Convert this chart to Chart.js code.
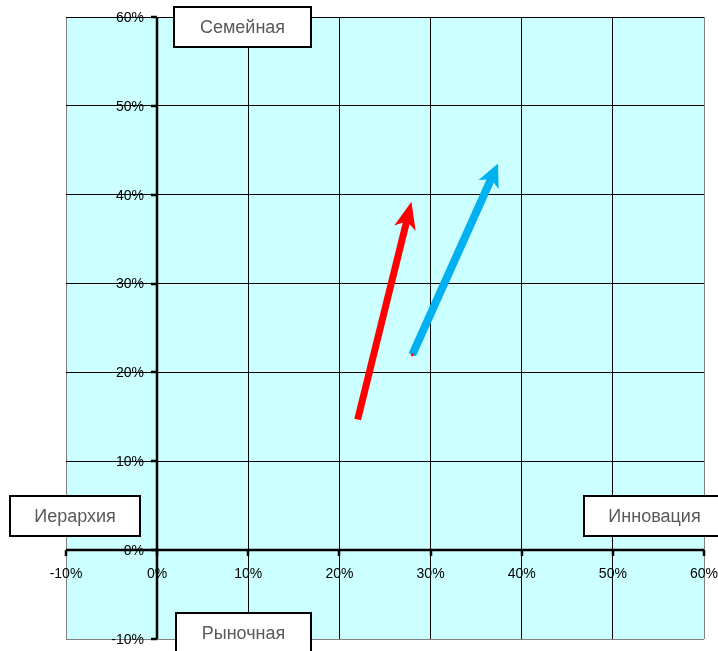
<!DOCTYPE html>
<html>
<head>
<meta charset="utf-8">
<script src="https://cdn.jsdelivr.net/npm/chart.js@4"></script>
<style>
  html, body { margin: 0; padding: 0; background: #fff; }
  canvas { display: block; }
</style>
</head>
<body>
<canvas id="chart" width="718" height="651"></canvas>
<script>
// Axis ticks (percent)
const xTicks = [-10, 0, 10, 20, 30, 40, 50, 60];
const yTicks = [-10, 0, 10, 20, 30, 40, 50, 60];
const tickLabel = v => v + '%';

// Movement vectors: start point -> end point (percent)
const redStart = { x: 22.0, y: 14.7 };
const redEnd   = { x: 27.9, y: 39.2 };
const blueStart = { x: 28.0, y: 22.0 };
const blueEnd   = { x: 37.4, y: 43.5 };

// Quadrant captions
const labelTop = 'Семейная';
const labelBottom = 'Рыночная';
const labelLeft = 'Иерархия';
const labelRight = 'Инновация';

const FONT = '"Liberation Sans", Arial, sans-serif';
const PLOT_BG = '#CCFFFF';
const RED = '#FF0000';
const BLUE = '#00B0F0';

// Plot background
const backgroundPlugin = {
  id: 'plotBackground',
  beforeDraw(chart) {
    const { ctx, chartArea: a } = chart;
    ctx.save();
    ctx.fillStyle = PLOT_BG;
    ctx.fillRect(a.left, a.top, a.right - a.left, a.bottom - a.top);
    ctx.restore();
  }
};

// Axes crossing at zero, tick marks and tick labels
const crossAxesPlugin = {
  id: 'crossAxes',
  beforeDatasetsDraw(chart) {
    const { ctx, chartArea: a, scales: { x, y } } = chart;
    const x0 = Math.round(x.getPixelForValue(0));
    const y0 = Math.round(y.getPixelForValue(0));
    ctx.save();
    ctx.strokeStyle = '#000';
    ctx.lineWidth = 2.5;
    ctx.beginPath();
    ctx.moveTo(a.left, y0);
    ctx.lineTo(a.right, y0);
    ctx.moveTo(x0, a.top);
    ctx.lineTo(x0, a.bottom);
    ctx.stroke();

    ctx.beginPath();
    xTicks.forEach(v => {
      const px = Math.round(x.getPixelForValue(v));
      ctx.moveTo(px, y0);
      ctx.lineTo(px, y0 + 6);
    });
    yTicks.forEach(v => {
      const py = Math.round(y.getPixelForValue(v));
      ctx.moveTo(x0 - 6, py);
      ctx.lineTo(x0, py);
    });
    ctx.stroke();

    ctx.fillStyle = '#000';
    ctx.font = '14px ' + FONT;
    ctx.textBaseline = 'middle';
    ctx.textAlign = 'center';
    xTicks.forEach(v => {
      ctx.fillText(tickLabel(v), x.getPixelForValue(v), y0 + 24);
    });
    ctx.textAlign = 'right';
    yTicks.forEach(v => {
      ctx.fillText(tickLabel(v), x0 - 13, y.getPixelForValue(v) + 1);
    });
    ctx.restore();
  }
};

// Arrowhead geometry per dataset: length, half-width, notch depth
const HEADS = [
  { L: 27, W: 11, N: 20 },
  { L: 23, W: 11, N: 17 }
];

function unitVectors(from, to) {
  const dx = to.x - from.x, dy = to.y - from.y;
  const len = Math.hypot(dx, dy);
  const ux = dx / len, uy = dy / len;
  return { ux, uy, nx: -uy, ny: ux };
}

function drawHead(ctx, from, to, color, h) {
  const { ux, uy, nx, ny } = unitVectors(from, to);
  ctx.fillStyle = color;
  ctx.beginPath();
  ctx.moveTo(to.x, to.y);
  ctx.lineTo(to.x - h.L * ux + h.W * nx, to.y - h.L * uy + h.W * ny);
  ctx.lineTo(to.x - h.N * ux, to.y - h.N * uy);
  ctx.lineTo(to.x - h.L * ux - h.W * nx, to.y - h.L * uy - h.W * ny);
  ctx.closePath();
  ctx.fill();
}

// Keep the thick shaft from poking past the head: clip it at the notch
const arrowPlugin = {
  id: 'arrowHeads',
  beforeDatasetDraw(chart, args) {
    const { ctx } = chart;
    const pts = args.meta.data;
    ctx.save();
    if (pts.length < 2) return;
    const from = pts[pts.length - 2], to = pts[pts.length - 1];
    const h = HEADS[args.index];
    const { ux, uy, nx, ny } = unitVectors(from, to);
    const bx = to.x - h.N * ux, by = to.y - h.N * uy;
    const fx = to.x + 10 * ux, fy = to.y + 10 * uy;
    const s = 20;
    ctx.beginPath();
    ctx.rect(0, 0, chart.width, chart.height);
    ctx.moveTo(bx + s * nx, by + s * ny);
    ctx.lineTo(fx + s * nx, fy + s * ny);
    ctx.lineTo(fx - s * nx, fy - s * ny);
    ctx.lineTo(bx - s * nx, by - s * ny);
    ctx.closePath();
    ctx.clip('evenodd');
  },
  afterDatasetDraw(chart) {
    chart.ctx.restore();
  },
  afterDatasetsDraw(chart) {
    const { ctx } = chart;
    ctx.save();
    chart.data.datasets.forEach((ds, i) => {
      const pts = chart.getDatasetMeta(i).data;
      if (pts.length < 2) return;
      drawHead(ctx, pts[pts.length - 2], pts[pts.length - 1], ds.borderColor, HEADS[i]);
    });
    ctx.restore();
  }
};

// Captions in framed boxes
function captionBox(ctx, text, left, top, right, bottom, textY) {
  ctx.fillStyle = '#fff';
  ctx.fillRect(left, top, right - left, bottom - top);
  ctx.strokeStyle = '#000';
  ctx.lineWidth = 2;
  ctx.strokeRect(left, top, right - left, bottom - top);
  ctx.fillStyle = '#595959';
  ctx.font = '18px ' + FONT;
  ctx.textAlign = 'center';
  ctx.textBaseline = 'middle';
  ctx.fillText(text, (left + right) / 2, textY);
}

const captionPlugin = {
  id: 'captions',
  afterDraw(chart) {
    const { ctx } = chart;
    ctx.save();
    captionBox(ctx, labelTop, 174, 7, 311, 47, 28);
    captionBox(ctx, labelBottom, 176, 613, 311, 660, 634);
    captionBox(ctx, labelLeft, 10, 496, 140, 536, 517);
    captionBox(ctx, labelRight, 584, 496, 725, 536, 517);
    ctx.restore();
  }
};

const gridColorX = c => (c.tick && (c.tick.value === -10 || c.tick.value === 60)) ? '#808080' : '#000';
const gridColorY = c => (c.tick && c.tick.value === -10) ? '#808080' : '#000';

new Chart(document.getElementById('chart'), {
  type: 'scatter',
  data: {
    datasets: [
      {
        label: 'red',
        data: [redStart, redEnd],
        showLine: true,
        borderColor: RED,
        borderWidth: 7,
        borderCapStyle: 'butt',
        pointRadius: 0,
        pointHoverRadius: 0
      },
      {
        label: 'blue',
        data: [blueStart, blueEnd],
        showLine: true,
        borderColor: BLUE,
        borderWidth: 8,
        borderCapStyle: 'butt',
        pointRadius: [1.5, 0],
        pointBackgroundColor: RED,
        pointBorderWidth: 0,
        pointHoverRadius: 0
      }
    ]
  },
  options: {
    responsive: false,
    animation: false,
    events: [],
    layout: { padding: { left: 66, top: 17, right: 14, bottom: 12 } },
    plugins: { legend: { display: false }, tooltip: { enabled: false } },
    scales: {
      x: {
        type: 'linear',
        min: -10, max: 60,
        afterBuildTicks: s => { s.ticks = xTicks.map(v => ({ value: v })); },
        ticks: { display: false },
        grid: { color: gridColorX, lineWidth: 1, drawTicks: false },
        border: { display: false }
      },
      y: {
        type: 'linear',
        min: -10, max: 60,
        afterBuildTicks: s => { s.ticks = yTicks.map(v => ({ value: v })); },
        ticks: { display: false },
        grid: { color: gridColorY, lineWidth: 1, drawTicks: false },
        border: { display: false }
      }
    }
  },
  plugins: [backgroundPlugin, crossAxesPlugin, arrowPlugin, captionPlugin]
});
</script>
</body>
</html>
